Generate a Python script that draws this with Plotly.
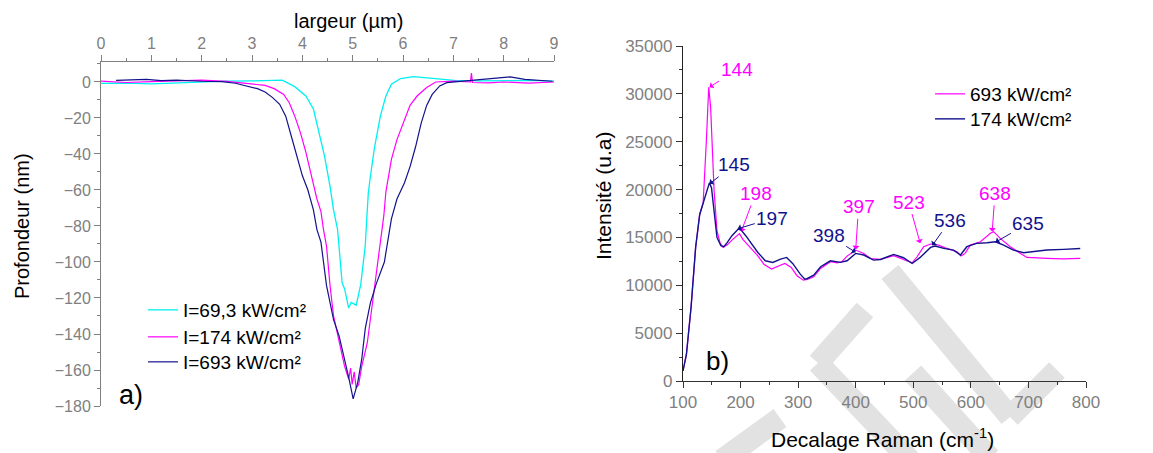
import plotly.graph_objects as go

# ---------- Panel a) : depth profiles ----------
cyan_x = [0, 0.5, 1.0, 1.5, 2.0, 2.5, 3.0, 3.3, 3.6, 3.85, 4.07, 4.22, 4.33, 4.44, 4.55, 4.62, 4.70,
          4.73, 4.79, 4.84, 4.92, 4.97, 5.03, 5.07, 5.16, 5.25, 5.28, 5.31, 5.34, 5.43, 5.55, 5.66,
          5.77, 5.95, 6.21, 6.65, 7.02, 7.5, 8.0, 8.5, 9.0]
cyan_y = [-0.8, -0.6, -1.0, -0.4, 0.3, 0.5, 0.6, 0.8, 1.0, -2.6, -7.8, -15, -28, -41, -58, -71, -82,
          -91, -111.6, -115, -125.6, -122.5, -123.7, -124, -112.6, -91, -76, -62, -55, -37, -19, -7.8,
          -1.3, 1.9, 3.0, 1.9, 0.9, 0.6, 0.8, 0.9, 0.5]

mag_a_x = [0, 0.5, 1.0, 1.5, 2.0, 2.5, 3.0, 3.26, 3.44, 3.63, 3.74, 3.85, 3.96, 4.07, 4.18, 4.29, 4.37,
           4.42, 4.48, 4.55, 4.62, 4.73, 4.84, 4.92, 4.96, 4.99, 5.03, 5.07, 5.12, 5.18, 5.24, 5.29,
           5.36, 5.43, 5.51, 5.58, 5.62, 5.66, 5.68, 5.77, 5.88, 5.99, 6.14, 6.28, 6.47, 6.65, 7.02,
           7.34, 7.36, 7.38, 7.7, 8.0, 8.5, 9.0]
mag_a_y = [0.5, -0.3, 0.2, 0.8, 1.0, 0.3, -1.0, -1.9, -3.7, -6.9, -11.5, -19, -28, -39, -52, -65, -72,
           -82, -91, -113, -130, -145, -158, -165, -159, -168, -161, -170, -168, -158, -151, -145,
           -130, -115, -98.6, -84, -74, -61, -58, -43, -32, -24, -13, -7.8, -3.1, 0, 0.5,
           0, 5, -0.3, -0.5, 0, -0.6, 0]

navy_a_x = [0.3, 0.6, 0.9, 1.2, 1.5, 2.0, 2.4, 2.67, 2.96, 3.11, 3.26, 3.41, 3.55, 3.67, 3.78, 3.89,
            4.0, 4.11, 4.22, 4.29, 4.37, 4.48, 4.62, 4.73, 4.84, 4.92, 5.01, 5.10, 5.18, 5.25, 5.35,
            5.47, 5.63, 5.73, 5.77, 5.88, 6.03, 6.14, 6.25, 6.36, 6.47, 6.58, 6.73, 6.87, 7.17, 7.54,
            7.98, 8.13, 8.42, 8.97]
navy_a_y = [0.9, 1.0, 1.5, 0.8, 1.0, 0.4, 0.2, -0.7, -2.6, -3.7, -5.6, -8.7, -12.4, -19, -30, -41,
            -52, -60, -71, -82, -89, -113, -132, -141, -154, -164, -176, -167, -154, -137, -123,
            -112, -100, -84, -76, -65, -56, -47, -36, -23, -13, -6.9, -2.2, -0.4, 0.4, 1.1,
            2.4, 2.8, 1.5, 0.4]

legend_a = ["I=69,3 kW/cm²", "I=174 kW/cm²", "I=693 kW/cm²"]

# ---------- Panel b) : Raman spectra ----------
mag_b_x = [100, 106, 114, 122, 129, 135, 140.5, 144.7, 148, 154, 159, 164, 169.5, 177, 185, 193, 198,
           204, 214, 230, 240.5, 253.7, 267, 277, 288, 298, 309, 316, 327, 339, 356, 368, 376, 385,
           400, 414, 425.6, 443, 466, 483, 498, 506.6, 518, 530, 544, 558.6, 576, 583, 590, 599,
           616.5, 634, 639.6, 651, 668.5, 686, 697.5, 732, 760, 790]
mag_b_y = [1050, 2800, 7700, 14000, 17400, 18600, 25000, 30700, 28600, 19900, 15700, 14500, 13950,
           14230, 14720, 15180, 15400, 14800, 14100, 13080, 12200, 11700, 12040, 12280, 11860, 11000,
           10540, 10600, 10890, 11760, 12460, 12350, 12460, 13050, 13680, 13330, 12800, 12700, 13090,
           12740, 12350, 12980, 14030, 14310, 14200, 13850, 13500, 13050, 13330, 14200, 14550, 15430,
           15600, 14900, 14030, 13330, 12910, 12810, 12750, 12810]

navy_b_x = [100, 106, 114, 122, 129, 135, 139.5, 145.8, 149.5, 154, 159, 165.8, 171, 177, 185, 196,
            201, 209, 219.5, 230, 243, 256, 269.5, 280, 290.5, 303.7, 311.6, 316, 327, 339, 356,
            373.6, 385, 400, 414, 431, 443, 466, 483, 498, 512, 530, 538, 553, 570, 582, 593, 610,
            628, 642.5, 657, 674, 691.6, 709, 732, 761, 790]
navy_b_y = [1050, 2800, 7700, 14000, 17400, 18600, 19500, 20700, 20200, 17400, 15000, 14130, 14030,
            14480, 15180, 15870, 15770, 15180, 14300, 13430, 12560, 12390, 12730, 12910, 12280, 11160,
            10640, 10710, 11060, 11940, 12560, 12390, 12560, 13330, 13160, 12630, 12700, 13230, 12880,
            12280, 12910, 13960, 14100, 13850, 13680, 13160, 14030, 14380, 14450, 14550, 14200, 13680,
            13400, 13500, 13680, 13750, 13850]

legend_b = ["693 kW/cm²", "174 kW/cm²"]

# peak labels : text, series (0 = magenta / 1 = navy), arrow tip (x, y), text centre (x, y)
peak_labels = ["144", "145", "198", "197", "398", "397", "523", "536", "638", "635"]
peak_series = [0, 1, 0, 1, 1, 0, 0, 1, 0, 1]
peak_tip_x = [146, 146, 201, 195, 400, 400, 512, 533, 637, 643]
peak_tip_y = [30700, 20600, 15600, 15900, 13450, 13750, 14400, 14150, 15600, 14500]
peak_txt_x = [193, 189, 226, 255, 353, 405, 492, 564, 642, 700]
peak_txt_y = [32500, 22600, 19600, 17000, 15200, 18200, 18700, 16800, 19600, 16500]

CYAN = "#00F0F0"
MAG = "#FF00FF"
NAVY = "#12128C"
GRAY = "#808080"
FONT = "Arial, Liberation Sans, sans-serif"

W, H = 1153, 453
OFF = 8  # page body margin: screen position = figure position + OFF


def px(x):
    return (x - OFF) / W


def py(y):
    return 1 - (y - OFF) / H


fig = go.Figure()

fig.add_trace(go.Scatter(x=cyan_x, y=cyan_y, mode="lines", name=legend_a[0],
                         line=dict(color=CYAN, width=1.3), xaxis="x", yaxis="y", legend="legend"))
fig.add_trace(go.Scatter(x=mag_a_x, y=mag_a_y, mode="lines", name=legend_a[1],
                         line=dict(color=MAG, width=1.2), xaxis="x", yaxis="y", legend="legend3"))
fig.add_trace(go.Scatter(x=navy_a_x, y=navy_a_y, mode="lines", name=legend_a[2],
                         line=dict(color=NAVY, width=1.2), xaxis="x", yaxis="y", legend="legend4"))

fig.add_trace(go.Scatter(x=mag_b_x, y=mag_b_y, mode="lines", name=legend_b[0],
                         line=dict(color=MAG, width=1.2), xaxis="x2", yaxis="y2", legend="legend2"))
fig.add_trace(go.Scatter(x=navy_b_x, y=navy_b_y, mode="lines", name=legend_b[1],
                         line=dict(color=NAVY, width=1.4), xaxis="x2", yaxis="y2", legend="legend5"))

tickfont_a = dict(family=FONT, size=16, color=GRAY)
tickfont_b = dict(family=FONT, size=17, color=GRAY)

annotations = []
for lab, s, tx, ty, ax, ay in zip(peak_labels, peak_series, peak_tip_x, peak_tip_y, peak_txt_x, peak_txt_y):
    col = MAG if s == 0 else NAVY
    annotations.append(dict(x=tx, y=ty, ax=ax, ay=ay, xref="x2", yref="y2", axref="x2", ayref="y2",
                            text=lab, showarrow=True, arrowhead=1, arrowsize=1.2, arrowwidth=1,
                            arrowcolor=col, font=dict(family=FONT, size=19, color=col), standoff=0))


def label(x, y, text, size, angle=0):
    return dict(x=px(x), y=py(y), xref="paper", yref="paper", text=text, showarrow=False,
                xanchor="center", yanchor="middle", textangle=angle,
                font=dict(family=FONT, size=size, color="black"))


annotations += [
    label(348, 21, "largeur (µm)", 20),
    label(22, 226, "Profondeur (nm)", 20, -90),
    label(603, 196, "Intensité (u.a)", 21, -90),
    label(882, 438, "Decalage Raman (cm<sup>-1</sup>)", 21),
    label(131, 395, "a)", 27),
    label(717, 361, "b)", 26),
]

# light-gray watermark strokes (decorative background)
wm = [((865, 310), (818, 363)), ((818, 363), (910, 460)), ((890, 272), (1010, 417)),
      ((1010, 417), (1057, 370)), ((913, 373), (990, 458)), ((780, 418), (722, 460))]
shapes = []
for (x0, y0), (x1, y1) in wm:
    shapes.append(dict(type="line", xref="paper", yref="paper", x0=px(x0), y0=py(y0), x1=px(x1),
                       y1=py(y1), line=dict(color="#E2E2E2", width=22), layer="below"))


def leg(x, y, size):
    return dict(x=px(x), y=py(y), xanchor="left", yanchor="middle", bgcolor="rgba(0,0,0,0)",
                font=dict(family=FONT, size=size, color="black"), tracegroupgap=0)


fig.update_layout(
    width=W, height=H,
    margin=dict(l=0, r=0, t=0, b=0, pad=0, autoexpand=False),
    paper_bgcolor="white", plot_bgcolor="rgba(0,0,0,0)",
    showlegend=True,
    xaxis=dict(domain=[px(101), px(554)], range=[0, 9], side="top", anchor="y",
               showline=True, linecolor=GRAY, linewidth=1, showgrid=False, zeroline=False,
               ticks="outside", ticklen=6, tickcolor=GRAY, dtick=1, tickfont=tickfont_a,
               minor=dict(ticks="outside", ticklen=3, dtick=0.5, tickcolor=GRAY, showgrid=False)),
    yaxis=dict(domain=[py(406), py(62)], range=[-180, 11.1], anchor="x",
               showline=True, linecolor=GRAY, linewidth=1, showgrid=False, zeroline=False,
               ticks="outside", ticklen=6, tickcolor=GRAY, dtick=20, tickfont=tickfont_a,
               minor=dict(ticks="outside", ticklen=3, dtick=10, tickcolor=GRAY, showgrid=False)),
    xaxis2=dict(domain=[px(683), px(1086)], range=[100, 800], anchor="y2",
                showline=True, linecolor="#333333", linewidth=1, showgrid=False, zeroline=False,
                ticks="outside", ticklen=6, tickcolor="#333333", dtick=100, tickfont=tickfont_b,
                minor=dict(ticks="outside", ticklen=3, dtick=50, tickcolor="#333333", showgrid=False)),
    yaxis2=dict(domain=[py(381), py(46)], range=[0, 35000], anchor="x2",
                showline=True, linecolor="#222222", linewidth=1.3, showgrid=False, zeroline=False,
                ticks="outside", ticklen=6, tickcolor="#333333", dtick=5000, tickformat="d",
                tickfont=tickfont_b,
                minor=dict(ticks="outside", ticklen=3, dtick=2500, tickcolor="#333333", showgrid=False)),
    legend=leg(143, 310, 19),
    legend3=leg(143, 337, 19),
    legend4=leg(143, 362, 19),
    legend2=leg(930, 94, 19),
    legend5=leg(930, 119, 19),
    annotations=annotations,
    shapes=shapes,
)

fig.write_html("out.html")
